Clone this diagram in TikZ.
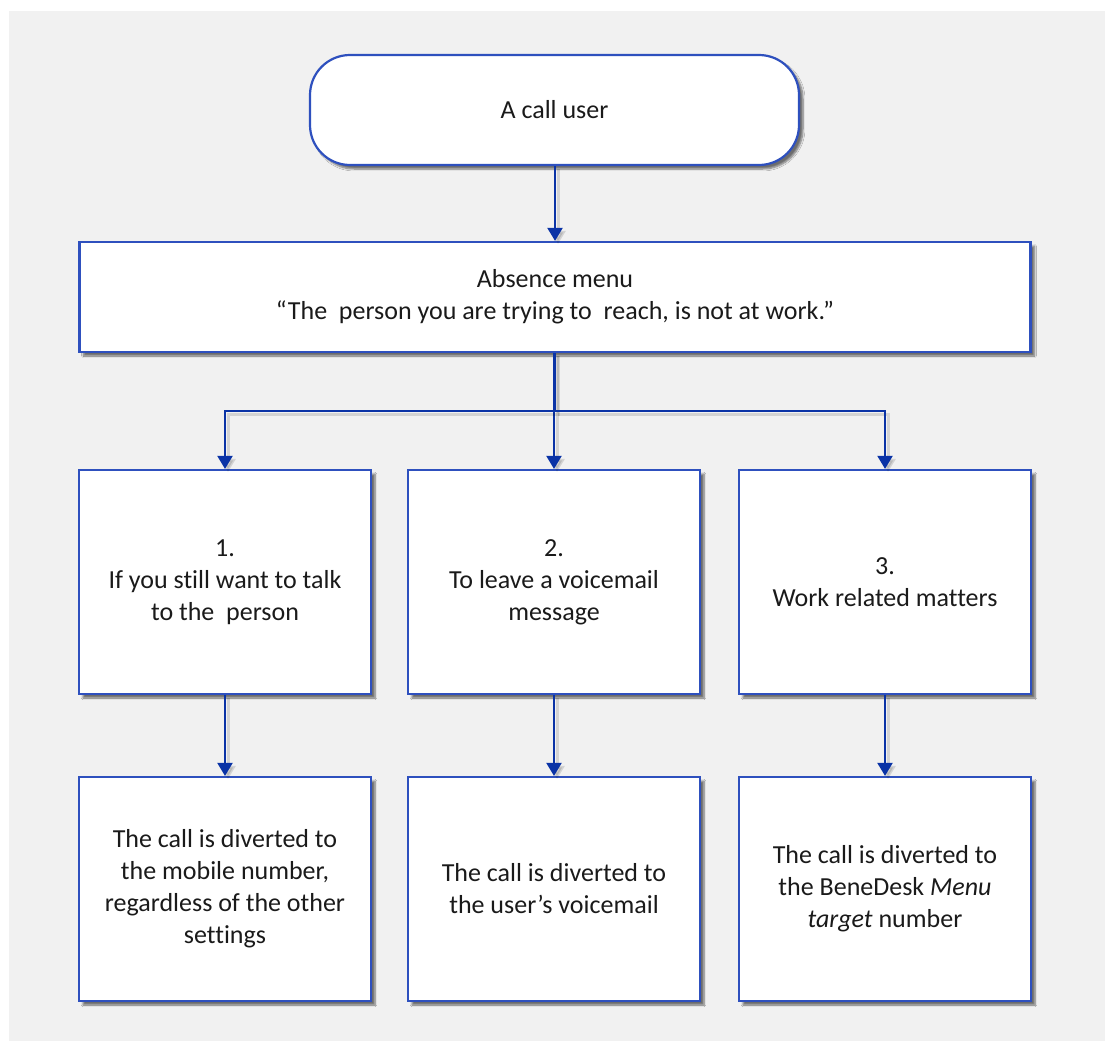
\documentclass[tikz,border=0pt]{standalone}
\usepackage{fontspec}
\setmainfont{Carlito}[Ligatures=NoCommon]
\usetikzlibrary{arrows.meta,shadows.blur}
\definecolor{boxblue}{HTML}{2E50BE}
\definecolor{arrblue}{HTML}{0A33A6}
\definecolor{bggray}{HTML}{F1F1F1}
\definecolor{txt}{HTML}{1A1A1A}
\begin{document}
\begin{tikzpicture}[x=1pt,y=-1pt,
  boxbase/.style={draw=boxblue, line width=2.2pt, fill=white, align=center, text=txt,
    font=\fontsize{26}{32}\selectfont, inner sep=0pt,
    blur shadow={shadow xshift=4pt, shadow yshift=-4pt, shadow blur steps=6, shadow opacity=55}},
  colbox/.style={boxbase, minimum width=292pt, minimum height=224pt},
  arr/.style={draw=arrblue, line width=2pt, -{Triangle[length=13pt,width=15pt]},
    preaction={draw=black, opacity=0.12, line width=3pt, transform canvas={shift={(3pt,-3pt)}}}}
]
\useasboundingbox (0,0) rectangle (1105,1041);
\fill[white] (0,0) rectangle (1105,1041);
\fill[bggray] (9,11) rectangle (1105,1041);

\node[boxbase, rounded corners=40pt, minimum width=489pt, minimum height=110pt] (user) at (554.5,110) {A call user};
\node[boxbase, minimum width=951pt, minimum height=110pt] (menu) at (555,297)
  {Absence menu\\“The\ \ person you are trying to\ \ reach, is not at work.”};

\node[colbox] (o1) at (225,582) {1.\\If you still want to talk\\to the\ \ person};
\node[colbox] (o2) at (554,582) {2.\\To leave a voicemail\\message};
\node[colbox] (o3) at (885,582) {3.\\Work related matters};

\node[colbox] (r1) at (225,889) {The call is diverted to\\the mobile number,\\regardless of the other\\settings};
\node[colbox] (r2) at (554,889) {The call is diverted to\\the user’s voicemail};
\node[colbox] (r3) at (885,889) {The call is diverted to\\the BeneDesk \textit{Menu}\\\textit{target} number};

\coordinate (split) at (555,411);

\draw[arr] (user.south -| menu.north) -- (menu.north);
\draw[arr] (menu.south -| o2.north) -- (o2.north);
\draw[arr] (menu.south -| split) -- (split) -| (o1.north);
\draw[arr] (split) -| (o3.north);
\draw[arr] (o1.south) -- (r1.north);
\draw[arr] (o2.south) -- (r2.north);
\draw[arr] (o3.south) -- (r3.north);
\end{tikzpicture}
\end{document}
